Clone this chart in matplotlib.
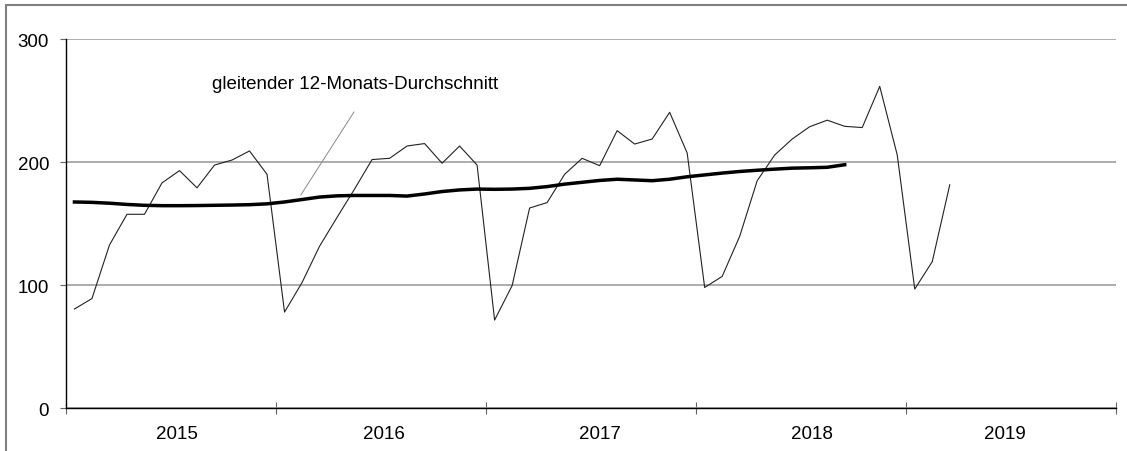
import matplotlib.pyplot as plt
import numpy as np

plt.rcParams['font.family'] = ['Liberation Sans', 'DejaVu Sans']

# monthly values Jan 2015 - Mar 2019
werte = [80.5, 89, 132.5, 157.5, 157.5, 183, 193, 179, 197.5, 201.6, 209, 190,
         78, 102, 131.5, 155, 178, 202, 203, 213, 215, 199, 213, 197.5,
         71.5, 99.5, 162.6, 167, 190, 203, 197, 225.5, 214.6, 218.7, 240.4, 207.3,
         98, 107, 139.6, 184.8, 205.7, 218.7, 228.7, 234, 229, 228, 261.5, 205.7,
         96.7, 119, 181.5]

# gleitender 12-Monats-Durchschnitt, Jan 2015 - Sep 2018
durchschnitt = [167.5, 167.2, 166.5, 165.5, 164.8, 164.5, 164.5, 164.6, 164.8, 165.0, 165.3, 166,
                167.5, 169.5, 171.5, 172.5, 172.8, 172.8, 172.8, 172.3, 174, 176, 177.3, 178,
                177.8, 178, 178.6, 180, 182, 183.5, 185, 186, 185.4, 184.8, 186, 188,
                189.5, 191, 192.3, 193.3, 194.2, 195, 195.3, 195.7, 197.8]

jahre = ['2015', '2016', '2017', '2018', '2019']
jahr_label_pos = [6.34, 18.15, 30.53, 42.62, 53.65]

x_werte = np.arange(len(werte)) + 0.5
x_durchschnitt = np.arange(len(durchschnitt)) + 0.5

fig = plt.figure(figsize=(11.27, 4.52), dpi=100)
ax = fig.add_axes([0.0583, 0.0951, 0.9320, 0.8164])

# frame around the chart area (only left and top visible)
fig.add_artist(plt.Rectangle((6 / 1127, -0.1), 1.2, 1.1 - 6 / 452,
                             transform=fig.transFigure, fill=False,
                             edgecolor='#808080', linewidth=1.5))

ax.plot(x_werte, werte, color='#222222', linewidth=0.8)
ax.plot(x_durchschnitt, durchschnitt, color='black', linewidth=2.5)

ax.text(8.36, 264, 'gleitender 12-Monats-Durchschnitt', fontsize=13.5, va='center', ha='left')
ax.annotate('', xy=(13.43, 173.2), xytext=(16.47, 240.7),
            arrowprops=dict(arrowstyle='-', color='#888888', linewidth=0.7,
                            shrinkA=0, shrinkB=0))

ax.set_xlim(0, 60)
ax.set_ylim(0, 300)
ax.set_yticks([0, 100, 200, 300])
ax.yaxis.grid(True, color='#a6a6a6', linewidth=1.3)
ax.set_axisbelow(True)

ax.set_xticks([0, 12, 24, 36, 48, 60])
ax.set_xticklabels([])
ax.set_xticks(jahr_label_pos, minor=True)
ax.set_xticklabels(jahre, minor=True)
ax.tick_params(axis='x', which='major', direction='inout', length=9, color='#666666', width=0.8)
ax.tick_params(axis='x', which='minor', length=0, pad=12, labelsize=13.5)
ax.tick_params(axis='y', direction='out', length=4, color='#666666', width=0.8, pad=8, labelsize=13.5)

for s in ['top', 'right']:
    ax.spines[s].set_visible(False)
ax.spines['left'].set_linewidth(1.0)
ax.spines['bottom'].set_linewidth(1.0)

fig.savefig('out.png', dpi=100)
